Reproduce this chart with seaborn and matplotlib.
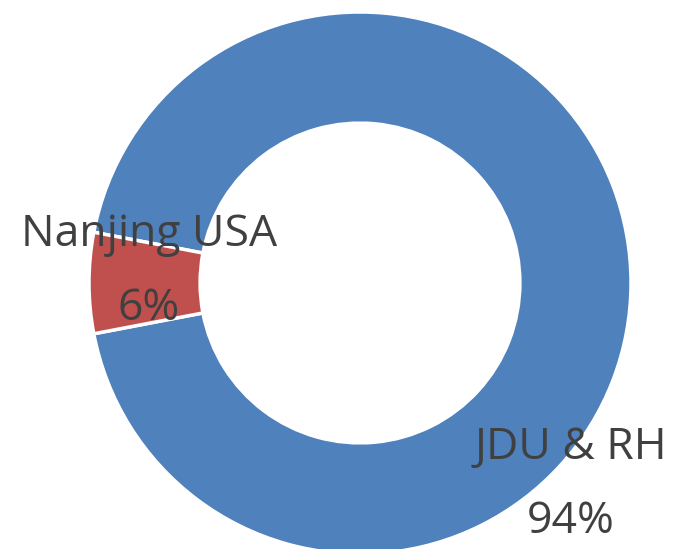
import matplotlib
matplotlib.use("Agg")
import matplotlib.pyplot as plt
import seaborn as sns

sns.set_theme(style="white")
plt.rcParams["font.family"] = ["Open Sans", "DejaVu Sans"]

categories = ["JDU & RH", "Nanjing USA"]
shares = [94, 6]
colors = ["#4F81BD", "#C0504D"]
TEXT_COLOR = "#404040"

fig = plt.figure(figsize=(6.77, 5.49), dpi=100)
ax = fig.add_axes([0, 0, 1, 1])

wedges, _ = ax.pie(
    shares, colors=colors, startangle=169.2, counterclock=False,
    radius=1.0, wedgeprops=dict(width=0.41, edgecolor="white", linewidth=2.5),
)

# axes limits chosen so the ring sits where it does in the picture (radius ~271 px)
px = 271.0
cx, cy = 360.0, 283.0
ax.set_xlim(-cx / px, (677 - cx) / px)
ax.set_ylim(-(549 - cy) / px, cy / px)
ax.set_aspect("equal")
ax.axis("off")

# labels: name above percentage (pixel positions of the text centres)
label_pos = {
    "Nanjing USA": (149, 235, 309),
    "JDU & RH": (571, 448, 522),
}
for name, val in zip(categories, shares):
    x, y1, y2 = label_pos[name]
    ax.text((x - cx) / px, (cy - y1) / px, name, ha="center", va="center",
            fontsize=32, color=TEXT_COLOR, fontweight="medium")
    ax.text((x - cx) / px, (cy - y2) / px, f"{val}%", ha="center", va="center",
            fontsize=32, color=TEXT_COLOR, fontweight="medium")

fig.savefig("out.png", dpi=100)
plt.close(fig)
